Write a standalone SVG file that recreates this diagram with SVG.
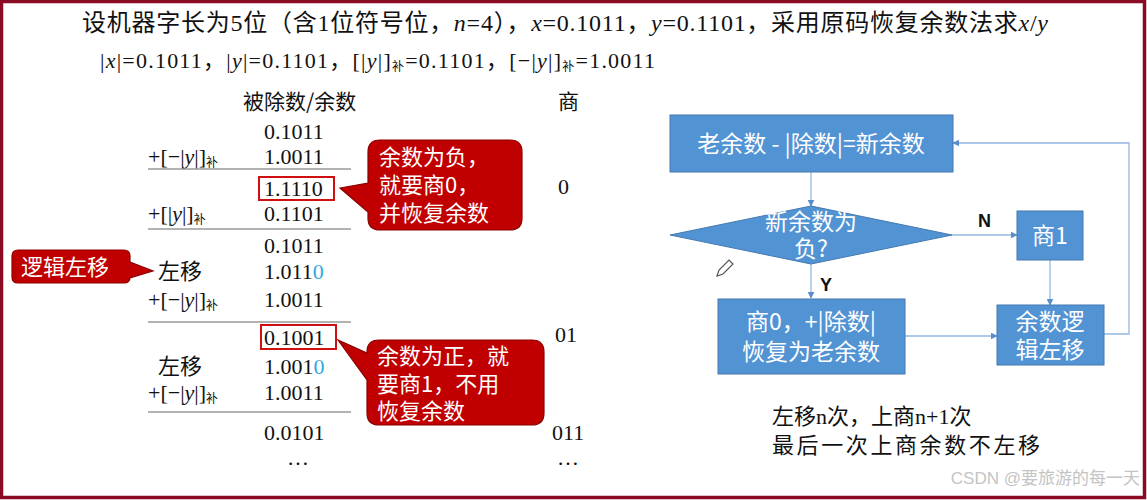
<svg xmlns="http://www.w3.org/2000/svg" width="1147" height="500" viewBox="0 0 1147 500">
<defs>
<style>
.ser{font-family:"Liberation Serif","Noto Sans CJK SC",serif;fill:#111;}
.cjk{font-family:"Noto Sans CJK SC","Liberation Serif",serif;}
.num{font-family:"Liberation Serif",serif;font-size:22px;fill:#111;}
.sub{font-family:"Noto Sans CJK SC",sans-serif;font-size:12px;}
.it{font-style:italic;}
.rule{stroke:#9a9a9a;stroke-width:1.3;}
.call{fill:#c00000;stroke:#8a0000;stroke-width:1.2;}
.ctext{font-family:"Noto Sans CJK SC",sans-serif;font-size:22px;fill:#fff;}
.fbox{fill:#5293d4;stroke:#4579b0;stroke-width:1;}
.ftext{font-family:"Noto Sans CJK SC",sans-serif;font-size:23px;fill:#fff;text-anchor:middle;}
.conn{stroke:#94b8e0;stroke-width:1.3;fill:none;marker-end:url(#ah);}
.lbl{font-family:"Liberation Sans",sans-serif;font-size:18px;font-weight:bold;fill:#111;}
</style>
<marker id="ah" viewBox="0 0 10 10" refX="9" refY="5" markerWidth="7" markerHeight="7" orient="auto" markerUnits="userSpaceOnUse">
<path d="M0,0 L10,5 L0,10 z" fill="#5b8fcc"/>
</marker>
</defs>
<rect x="0" y="0" width="1147" height="500" fill="#fff"/>
<rect x="1.5" y="1.5" width="1143" height="496" fill="none" stroke="#8b0a24" stroke-width="3.5"/>

<g id="title">
<text class="ser" x="82" y="31" font-size="24" textLength="966" lengthAdjust="spacing">设机器字长为5位（含1位符号位，<tspan class="it">n</tspan>=4），<tspan class="it">x</tspan>=0.1011，<tspan class="it">y</tspan>=0.1101，采用原码恢复余数法求<tspan class="it">x</tspan>/<tspan class="it">y</tspan></text>
<text class="ser" x="100" y="68" font-size="22" textLength="555" lengthAdjust="spacing">|<tspan class="it">x</tspan>|=0.1011，|<tspan class="it">y</tspan>|=0.1101，[|<tspan class="it">y</tspan>|]<tspan class="sub" dy="3">补</tspan><tspan dy="-3">=0.1101，[−|</tspan><tspan class="it">y</tspan>|]<tspan class="sub" dy="3">补</tspan><tspan dy="-3">=1.0011</tspan></text>
</g>

<g id="division">
<text class="ser cjk" x="243" y="109" font-size="21">被除数/余数</text>
<text class="ser cjk" x="558" y="109" font-size="21">商</text>
<text class="num" x="264" y="139">0.1011</text>
<text class="num" x="148" y="164">+[−|<tspan class="it">y</tspan>|]<tspan class="sub" dy="3">补</tspan></text>
<text class="num" x="264" y="164">1.0011</text>
<line class="rule" x1="148" y1="169" x2="351" y2="169"/>
<text class="num" x="264" y="196">1.1110</text>
<rect x="259" y="177" width="75" height="23" fill="none" stroke="#d01010" stroke-width="2"/>
<text class="num" x="148" y="221">+[|<tspan class="it">y</tspan>|]<tspan class="sub" dy="3">补</tspan></text>
<text class="num" x="264" y="221">0.1101</text>
<line class="rule" x1="148" y1="229" x2="351" y2="229"/>
<text class="num" x="264" y="253">0.1011</text>
<text class="ser cjk" x="158" y="279" font-size="22">左移</text>
<text class="num" x="264" y="279">1.011<tspan fill="#30a8e0">0</tspan></text>
<text class="num" x="148" y="307">+[−|<tspan class="it">y</tspan>|]<tspan class="sub" dy="3">补</tspan></text>
<text class="num" x="264" y="307">1.0011</text>
<line class="rule" x1="148" y1="322" x2="351" y2="322"/>
<text class="num" x="264" y="345">0.1001</text>
<rect x="261" y="325" width="75" height="24" fill="none" stroke="#d01010" stroke-width="2"/>
<text class="ser cjk" x="158" y="374" font-size="22">左移</text>
<text class="num" x="264" y="374">1.001<tspan fill="#30a8e0">0</tspan></text>
<text class="num" x="148" y="400">+[−|<tspan class="it">y</tspan>|]<tspan class="sub" dy="3">补</tspan></text>
<text class="num" x="264" y="400">1.0011</text>
<line class="rule" x1="148" y1="412" x2="351" y2="412"/>
<text class="num" x="264" y="440">0.0101</text>
<text class="num" x="287" y="465">…</text>
<text class="num" x="558" y="194">0</text>
<text class="num" x="555" y="342">01</text>
<text class="num" x="552" y="440">011</text>
<text class="num" x="557" y="465">…</text>
</g>

<g id="callout-negative">
<path class="call" d="M380,140 H510 Q522,140 522,152 V218 Q522,230 510,230 H380 Q368,230 368,218 V212 L340,188 L368,183 V152 Q368,140 380,140 Z"/>
<text class="ctext" x="379" y="165">余数为负，</text>
<text class="ctext" x="379" y="193">就要商0，</text>
<text class="ctext" x="379" y="221">并恢复余数</text>
</g>

<g id="callout-positive">
<path class="call" d="M379,340 H532 Q544,340 544,352 V413 Q544,425 532,425 H379 Q367,425 367,413 V380 L338,340 L367,353 V352 Q367,340 379,340 Z"/>
<text class="ctext" x="377" y="364">余数为正，就</text>
<text class="ctext" x="377" y="392">要商1，不用</text>
<text class="ctext" x="377" y="419">恢复余数</text>
</g>

<g id="callout-shift">
<path class="call" d="M18,250 H124 Q130,250 130,256 V262 L153,271 L130,278 V277 Q130,283 124,283 H18 Q12,283 12,277 V256 Q12,250 18,250 Z"/>
<text class="ctext" x="21" y="275" font-size="23">逻辑左移</text>
</g>

<g id="connectors">
<path class="conn" d="M811,172 V206"/>
<path class="conn" d="M952,235 H1017"/>
<path class="conn" d="M811,264 V298"/>
<path class="conn" d="M1050,260 V305"/>
<path class="conn" d="M905,336 H997"/>
<path class="conn" d="M1104,334 H1129 V143 H953"/>
<text class="lbl" x="978" y="227">N</text>
<text class="lbl" x="820" y="291">Y</text>
</g>

<g id="box-sub">
<rect class="fbox" x="670" y="115" width="283" height="57"/>
<text class="ftext" x="811" y="152">老余数 - |除数|=新余数</text>
</g>

<g id="decision">
<path class="fbox" d="M670,235 L811,206 L952,235 L811,264 Z"/>
<text class="ftext" x="811" y="230" font-size="22">新余数为</text>
<text class="ftext" x="811" y="257" font-size="22">负?</text>
</g>

<g id="box-q1">
<rect class="fbox" x="1017" y="211" width="66" height="49"/>
<text class="ftext" x="1050" y="244">商1</text>
</g>

<g id="box-restore">
<rect class="fbox" x="718" y="299" width="187" height="75"/>
<text class="ftext" x="811" y="330">商0，+|除数|</text>
<text class="ftext" x="811" y="360">恢复为老余数</text>
</g>

<g id="box-shift">
<rect class="fbox" x="997" y="305" width="107" height="60"/>
<text class="ftext" x="1050" y="330">余数逻</text>
<text class="ftext" x="1050" y="358">辑左移</text>
</g>

<g id="notes">
<text class="ser cjk" x="772" y="424" font-size="22">左移<tspan font-family="Liberation Serif">n</tspan>次，上商<tspan font-family="Liberation Serif">n+1</tspan>次</text>
<text class="ser cjk" x="772" y="453" font-size="22" textLength="268" lengthAdjust="spacing">最后一次上商余数不左移</text>
</g>

<g id="pencil">
<path d="M717,276 L719,270 L729,260 L733,264 L723,274 Z" fill="none" stroke="#555" stroke-width="1.2"/>
</g>

<text x="1140" y="484" text-anchor="end" font-family="Liberation Sans,Noto Sans CJK SC,sans-serif" font-size="17" fill="#c4c4c4">CSDN @要旅游的每一天</text>
</svg>
